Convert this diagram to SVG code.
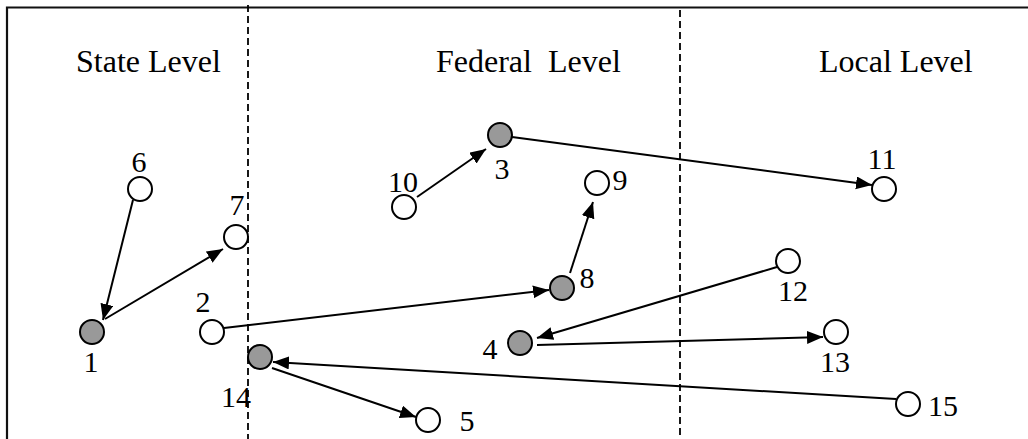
<svg xmlns="http://www.w3.org/2000/svg" width="1028" height="439" viewBox="0 0 1028 439">
<style>
text{font-family:"Liberation Serif","Times New Roman",serif;fill:#000}
.title{font-size:32px;white-space:pre}
.lbl{font-size:30px;text-anchor:middle}
.n{stroke:#000;stroke-width:2}
.w{fill:#fff}
.g{fill:#999}
.frame{stroke:#111;stroke-width:2.2;fill:none}
.dash{stroke:#000;stroke-width:1.8;stroke-dasharray:7 4;fill:none}
.c{stroke:#000;stroke-width:2;fill:none;marker-end:url(#ah)}
</style>
<defs>
<marker id="ah" markerUnits="userSpaceOnUse" markerWidth="17" markerHeight="14" refX="16" refY="6.5" orient="auto">
<path d="M0,0 L16,6.5 L0,13 z" fill="#000"/>
</marker>
</defs>
<rect width="1028" height="439" fill="#fff"/>
<g id="frame">
<path class="frame" d="M7,439 V7.5 H1028"/>
<path class="dash" d="M248,5 V439"/>
<path class="dash" d="M680,10 V439"/>
<text class="title" x="76" y="72">State Level</text>
<text class="title" x="436" y="72">Federal  Level</text>
<text class="title" x="819" y="72">Local Level</text>
</g>
<g id="connectors">
<line class="c" x1="133" y1="200" x2="103" y2="320"/>
<line class="c" x1="105" y1="319" x2="223" y2="249"/>
<line class="c" x1="224" y1="328" x2="549" y2="290"/>
<line class="c" x1="896" y1="399" x2="273" y2="362"/>
<line class="c" x1="272" y1="368" x2="416" y2="417"/>
<line class="c" x1="417" y1="197" x2="486" y2="149"/>
<line class="c" x1="512" y1="137" x2="872" y2="185"/>
<line class="c" x1="570" y1="273" x2="593" y2="202"/>
<line class="c" x1="777" y1="267" x2="537" y2="338"/>
<line class="c" x1="537" y1="345" x2="823" y2="337"/>
</g>
<g id="node1"><circle class="n g" cx="92" cy="332" r="12"/><text class="lbl" x="91" y="372">1</text></g>
<g id="node2"><circle class="n w" cx="212" cy="332" r="12"/><text class="lbl" x="203" y="312">2</text></g>
<g id="node3"><circle class="n g" cx="500" cy="135" r="12"/><text class="lbl" x="502" y="179">3</text></g>
<g id="node4"><circle class="n g" cx="520" cy="343" r="12"/><text class="lbl" x="490" y="359">4</text></g>
<g id="node5"><circle class="n w" cx="428" cy="420" r="12"/><text class="lbl" x="467" y="431">5</text></g>
<g id="node6"><circle class="n w" cx="140" cy="189" r="12"/><text class="lbl" x="139" y="172">6</text></g>
<g id="node7"><circle class="n w" cx="236" cy="237" r="12"/><text class="lbl" x="237" y="215">7</text></g>
<g id="node8"><circle class="n g" cx="562" cy="288" r="12"/><text class="lbl" x="587" y="288">8</text></g>
<g id="node9"><circle class="n w" cx="597" cy="183" r="12"/><text class="lbl" x="620" y="190">9</text></g>
<g id="node10"><circle class="n w" cx="404" cy="207" r="12"/><text class="lbl" x="403" y="192">10</text></g>
<g id="node11"><circle class="n w" cx="884" cy="189" r="12"/><text class="lbl" x="882" y="169">11</text></g>
<g id="node12"><circle class="n w" cx="788" cy="261" r="12"/><text class="lbl" x="793" y="301">12</text></g>
<g id="node13"><circle class="n w" cx="836" cy="332" r="12"/><text class="lbl" x="835" y="372">13</text></g>
<g id="node14"><circle class="n g" cx="260" cy="357" r="12"/><text class="lbl" x="236" y="407">14</text></g>
<g id="node15"><circle class="n w" cx="908" cy="404" r="12"/><text class="lbl" x="943" y="416">15</text></g>
</svg>
